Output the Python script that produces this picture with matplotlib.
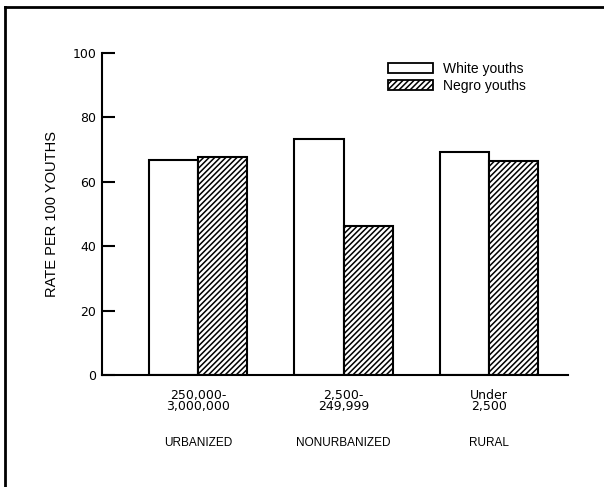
import numpy as np
import matplotlib
matplotlib.use('Agg')
import matplotlib.pyplot as plt
from matplotlib.lines import Line2D

# 資料
size_labels = ['250,000-\n3,000,000', '2,500-\n249,999', 'Under\n2,500']
area_labels = ['URBANIZED', 'NONURBANIZED', 'RURAL']
white_youths = [66.8, 73.3, 69.2]
negro_youths = [67.8, 46.4, 66.4]
yticks = [0, 20, 40, 60, 80, 100]

plt.rcParams['font.family'] = ['Liberation Sans', 'DejaVu Sans']
plt.rcParams['hatch.linewidth'] = 1.1

fig = plt.figure(figsize=(6.04, 4.87), dpi=100)
ax = fig.add_axes([102 / 604, 112 / 487, 466 / 604, 322 / 487])

x = np.arange(len(size_labels))
w = 0.337
ax.bar(x - w / 2, white_youths, w, color='white', edgecolor='black', linewidth=1.5, label='White youths')
ax.bar(x + w / 2, negro_youths, w, color='white', edgecolor='black', linewidth=1.5, hatch='//////', label='Negro youths')

ax.set_xlim(-0.66, 2.543)
ax.set_ylim(0, 100)
ax.set_yticks(yticks)
ax.set_xticks(x)
ax.set_xticklabels(size_labels, fontsize=9, linespacing=0.85, family='DejaVu Sans')
for t in ax.get_yticklabels():
    t.set_family('DejaVu Sans')
ax.tick_params(axis='x', length=0, pad=10)
ax.tick_params(axis='y', direction='in', length=9, width=1.5, labelsize=9, pad=4)
for s in ['top', 'right']:
    ax.spines[s].set_visible(False)
ax.spines['left'].set_linewidth(1.5)
ax.spines['bottom'].set_linewidth(1.5)

# 區域名稱
for xi, name in zip(x, area_labels):
    ax.text(xi, -0.211, name, transform=ax.get_xaxis_transform(), ha='center', va='center', fontsize=8.5)

ax.set_ylabel('RATE PER 100 YOUTHS', fontsize=10.5, labelpad=10)

leg = fig.legend(loc='upper left', bbox_to_anchor=(388 / 604, 1 - 62 / 487), frameon=False,
                 fontsize=10, handlelength=3.24, handleheight=0.72, labelspacing=0.2, handletextpad=0.7,
                 borderaxespad=0, borderpad=0)
for p in leg.get_patches():
    p.set_linewidth(1.3)

# 外框
fig.add_artist(Line2D([5 / 604, 1], [1 - 7 / 487, 1 - 7 / 487], color='black', lw=2, transform=fig.transFigure))
fig.add_artist(Line2D([5 / 604, 5 / 604], [0, 1 - 7 / 487], color='black', lw=2, transform=fig.transFigure))

fig.savefig('out.png', dpi=100)
